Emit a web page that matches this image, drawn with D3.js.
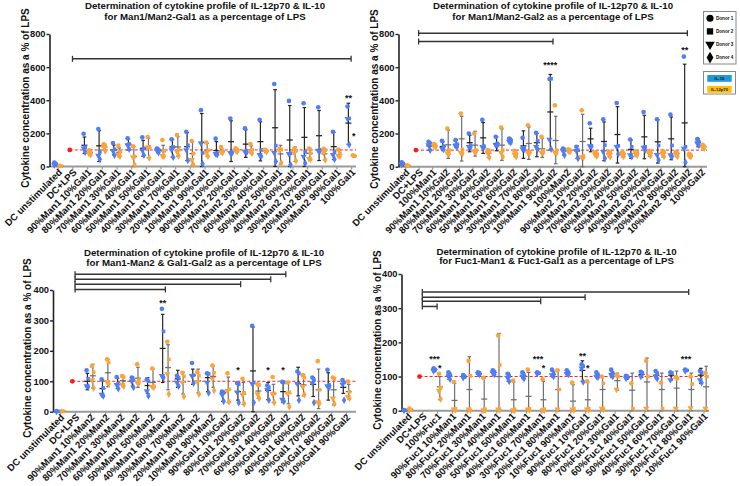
<!DOCTYPE html>
<html><head><meta charset="utf-8">
<script src="https://cdn.jsdelivr.net/npm/d3@7"></script>
<style>
body{margin:0;background:#fff}
svg{display:block}
text{font-family:"Liberation Sans",Arial,sans-serif;font-weight:bold;fill:#111}
</style>
</head><body>
<svg width="740" height="486"></svg>
<script>
// ---------------- DATA ----------------
const yTicks800 = [0, 200, 400, 600, 800];
const yTicks400 = [0, 100, 200, 300, 400];
const donors = ["Donor 1", "Donor 2", "Donor 3", "Donor 4"];
const cytokines = ["IL-10", "IL-12p70"];
const lpsValue = 100;

// Panel 1
const titles1 = ["Determination of cytokine profile of IL-12p70 & IL-10", "for Man1/Man2-Gal1 as a percentage of LPS"];
const cats1 = ["DC unstimulated","DC+LPS","90%Man1 10%Gal1","80%Man1 20%Gal1","70%Man1 30%Gal1","60%Man1 40%Gal1","50%Man1 50%Gal1","40%Man1 60%Gal1","30%Man1 70%Gal1","20%Man1 80%Gal1","10%Man1 90%Gal1","90%Man2 10%Gal1","80%Man2 20%Gal1","70%Man2 30%Gal1","60%Man2 40%Gal1","50%Man2 50%Gal1","40%Man2 60%Gal1","30%Man2 70%Gal1","20%Man2 80%Gal1","10%Man2 90%Gal1","100%Gal1"];
const il10Pts1 = [[24,16,8],[],[198,118,110,86],[226,88,66,44],[142,104,94,68],[170,136,128,104],[176,110,98,68],[108,102,96,84],[164,118,100,56],[210,128,100,36],[340,82,140,16],[168,80,76,72],[290,86,82,80],[230,96,90,84],[282,100,70,62],[498,126,82,30],[396,80,76,10],[382,88,60,20],[358,98,96,94],[210,88,70,44],[362,290,288,132]];
const il10Mean1 = [15,null,128,125,100,135,110,98,118,120,145,96,150,135,150,234,160,176,186,120,262];
const il10Err1 = [[5,25],null,[78,178],[30,216],[70,130],[100,166],[62,158],[84,110],[56,164],[36,204],[0,320],[66,150],[30,276],[55,222],[34,270],[0,464],[0,368],[0,356],[36,338],[42,206],[134,382]];
const il12Pts1 = [[4,2],[],[98,84,76,72],[134,126,118,94],[126,90,70,62],[122,60,56,10],[178,120,116,52],[160,94,64,62],[190,100,88,64],[154,78,40,12],[144,98,84,62],[118,92,86,84],[110,102,96,90],[136,100,92,80],[100,96,94,90],[106,102,96,22],[106,96,80,34],[108,80,46,44],[106,100,84,40],[102,80,64,62],[68,62]];
const il12Mean1 = [2,null,84,118,86,60,112,94,118,78,98,92,100,100,95,76,96,80,76,72,64];
const il12Err1 = [[0,4],null,[68,100],[98,136],[58,112],[0,120],[54,170],[60,128],[62,180],[10,150],[62,140],[82,106],[90,108],[80,125],[88,102],[15,128],[30,118],[40,110],[40,108],[60,100],[58,70]];
const brackets1 = [[1,20,650]];
const stars1 = [[20,0,433,"**"],[20,1,200,"*"]];

// Panel 2
const titles2 = ["Determination of cytokine profile of IL-12p70 & IL-10", "for Man1/Man2-Gal2 as a percentage of LPS"];
const cats2 = ["DC unstimulated","DC+LPS","100%Man1","90%Man1 10%Gal2","80%Man1 20%Gal2","70%Man1 30%Gal2","60%Man1 40%Gal2","50%Man1 50%Gal2","40%Man1 60%Gal2","30%Man1 70%Gal2","20%Man1 80%Gal2","10%Man1 90%Gal2","100%Man2","90%Man2 10%Gal2","80%Man2 20%Gal2","70%Man2 30%Gal2","60%Man2 40%Gal2","50%Man2 50%Gal2","40%Man2 60%Gal2","30%Man2 70%Gal2","20%Man2 80%Gal2","10%Man2 90%Gal2","100%Gal2"];
const il10Pts2 = [[26,18,12],[],[150,140,130,100],[156,124,110,104],[160,136,126,120],[200,130,120,118],[282,124,120,118],[180,140,130,128],[170,160,150,146],[174,114,106,104],[204,156,120,104],[528,530,164,106],[110,100,96,70],[120,100,96,50],[262,126,124,122],[286,130,90,50],[384,126,120,76],[164,120,70,60],[330,120,116,100],[286,128,72,40],[314,128,70,62],[664,120,110,26],[166,150,140,130]];
const il10Mean2 = [15,null,125,122,135,145,174,140,160,125,145,330,98,96,168,152,194,104,180,150,168,264,148];
const il10Err2 = [[6,26],null,[100,150],[100,150],[118,162],[90,190],[80,266],[96,180],[148,172],[50,216],[60,200],[100,556],[70,112],[50,124],[90,232],[36,270],[22,362],[50,160],[48,310],[22,282],[42,300],[0,618],[120,168]];
const il12Pts2 = [[8,4],[],[136,130,124,120],[230,100,82,78],[320,104,84,80],[200,100,92,90],[100,88,84,56],[236,100,84,60],[96,80,74,60],[250,90,84,82],[180,98,86,84],[370,100,86,82],[104,100,94,90],[340,64,58,56],[86,78,72,64],[90,84,72,60],[86,80,70,62],[92,84,76,70],[96,88,82,66],[96,88,74,62],[88,80,74,62],[78,70,64,60],[132,120,116,112]];
const il12Mean2 = [5,null,126,132,168,130,82,130,78,140,108,158,96,152,74,78,76,80,82,84,78,66,120];
const il12Err2 = [[2,8],null,[118,136],[50,220],[34,304],[64,214],[56,104],[38,228],[60,96],[44,240],[56,172],[18,304],[88,104],[0,316],[60,88],[58,92],[58,88],[62,92],[62,92],[58,96],[62,90],[56,76],[110,130]];
const brackets2 = [[1,21,805],[1,11,755]];
const stars2 = [[11,0,633,"****"],[21,0,723,"**"]];

// Panel 3
const titles3 = ["Determination of cytokine profile of IL-12p70 & IL-10", "for Man1-Man2 & Gal1-Gal2 as a percentage of LPS"];
const cats3 = ["DC unstimulated","DC+LPS","90%Man1 10%Man2","80%Man1 20%Man2","70%Man1 30%Man2","60%Man1 40%Man2","50%Man1 50%Man2","40%Man1 60%Man2","30%Man1 70%Man2","20%Man1 80%Man2","10%Man1 90%Man2","90%Gal1 10%Gal2","80%Gal1 20%Gal2","70%Gal1 30%Gal2","60%Gal1 40%Gal2","50%Gal1 50%Gal2","40%Gal1 60%Gal2","30%Gal1 70%Gal2","20%Gal1 80%Gal2","10%Gal1 90%Gal2"];
const il10Pts3 = [[2,1,0],[],[136,108,84,82],[106,78,56,52],[114,92,88,76],[112,104,100,80],[106,100,68,52],[338,264,118,112],[118,112,96,84],[160,120,118,94],[126,124,96,62],[66,62,56,34],[94,90,64,30],[282,96,92,30],[86,80,72,38],[98,96,40,34],[132,126,92,38],[112,104,94,30],[138,88,84,80],[104,96,90,38]];
const il10Mean3 = [1,null,100,76,92,100,86,208,108,120,112,62,66,134,70,66,92,90,86,80];
const il10Err3 = [[0,2],null,[72,126],[54,104],[76,110],[84,114],[60,112],[96,320],[80,136],[90,140],[66,128],[34,68],[38,96],[0,278],[40,96],[30,100],[52,146],[50,112],[38,128],[60,100]];
const il12Pts3 = [[2,1],[],[150,130,104,78],[172,162,98,92],[117,113,88,84],[156,104,96,94],[142,84,82,80],[230,172,124,58],[128,116,96,50],[130,118,98,58],[152,128,108,70],[126,74,68,32],[108,62,56,26],[90,88,58,44],[114,60,58,30],[96,64,60,16],[120,112,82,56],[166,72,32,28],[112,108,44,26],[99,66,49,44]];
const il12Mean3 = [1,null,118,128,102,110,96,145,98,102,116,72,58,68,60,60,88,72,72,66];
const il12Err3 = [[0,2],null,[78,156],[82,172],[84,116],[80,146],[80,140],[72,220],[58,130],[62,140],[80,150],[30,114],[24,96],[44,90],[30,90],[26,96],[52,122],[10,140],[22,112],[42,90]];
const brackets3 = [[1,15,452],[1,14,435],[1,12,419],[1,7,402]];
const stars3 = [[7,0,368,"**"],[12,0,147,"*"],[14,0,147,"*"],[15,0,147,"*"]];

// Panel 4
const titles4 = ["Determination of cytokine profile of IL-12p70 & IL-10", "for Fuc1-Man1 & Fuc1-Gal1 as a percentage of LPS"];
const cats4 = ["DC unstimulated","DC+LPS","100%Fuc1","90%Fuc1 10%Man1","80%Fuc1 20%Man1","70%Fuc1 30%Man1","60%Fuc1 40%Man1","50%Fuc1 50%Man1","40%Fuc1 60%Man1","30%Fuc1 70%Man1","20%Fuc1 80%Man1","10%Fuc1 90%Man1","90%Fuc1 10%Gal1","80%Fuc1 20%Gal1","70%Fuc1 30%Gal1","60%Fuc1 40%Gal1","50%Fuc1 50%Gal1","40%Fuc1 60%Gal1","30%Fuc1 70%Gal1","20%Fuc1 80%Gal1","10%Fuc1 90%Gal1"];
const il10Pts4 = [[2,1,0],[],[124,120,116],[112,106,100,92],[104,100,96],[112,110,108,106],[118,114,110,106],[108,102,96,86],[112,104,100,94],[112,110,108],[120,110,104,100],[118,112,108,106],[136,130,124,84],[112,106,100,98],[120,110,104,100],[102,98,94],[114,110,100],[116,110,100,94],[112,110,90],[120,118,116],[116,112,90,82]];
const il10Mean4 = [1,null,120,104,100,108,112,100,103,110,106,110,118,102,108,98,106,104,104,118,104];
const il10Err4 = [[0,2],null,[114,124],[92,112],[96,104],[102,112],[104,118],[86,110],[94,112],[106,112],[100,116],[106,116],[86,146],[98,108],[98,114],[92,104],[98,114],[96,112],[90,112],[116,120],[80,124]];
const il12Pts4 = [[6,3,2],[],[108,68,58,34],[84,6,4,2],[146,102,4,2],[96,4,2,1],[220,134,4,2],[88,4,2,1],[120,6,4,2],[92,4,2,1],[118,62,4],[82,6,4,2],[86,6,4,2],[100,80,6,4],[104,100,62],[80,6],[146,100,6],[82,6],[98,94,6],[100,78,8],[110,100,6]];
const il12Mean4 = [4,null,70,30,62,34,100,32,42,32,62,28,32,62,88,60,84,62,66,62,70];
const il12Err4 = [[2,6],null,[32,100],[0,80],[0,158],[0,96],[0,226],[0,84],[0,112],[0,86],[0,118],[0,76],[0,84],[2,100],[60,110],[0,110],[0,154],[0,110],[0,116],[0,110],[0,130]];
const brackets4 = [[1,19,347],[1,12,332],[1,9,320],[1,2,305]];
const stars4 = [[2,0,159,"***"],[2,1,133,"*"],[9,0,159,"***"],[9,1,133,"*"],[12,0,170,"**"],[12,1,133,"*"],[19,0,159,"***"]];

// ---------------- LAYOUT / STYLE ----------------
const BLUE = "#4f7ef7", ORANGE = "#fba43a";
const shapes = [d3.symbolCircle, d3.symbolSquare, d3.symbolTriangle, d3.symbolDiamond];
const svg = d3.select("svg");

const panels = [
  {titles:titles1,cats:cats1,p10:il10Pts1,m10:il10Mean1,e10:il10Err1,p12:il12Pts1,m12:il12Mean1,e12:il12Err1,br:brackets1,st:stars1,
   yMax:800,ticks:yTicks800,xr:[57.8,351.1],yr:[166.5,34],ax0:49.5,ax1:356,tx:205,ty:[9.2,20.2],ylx:25,yly:98},
  {titles:titles2,cats:cats2,p10:il10Pts2,m10:il10Mean2,e10:il10Err2,p12:il12Pts2,m12:il12Mean2,e12:il12Err2,br:brackets2,st:stars2,
   yMax:800,ticks:yTicks800,xr:[405.2,700.8],yr:[166.7,34],ax0:398.5,ax1:707,tx:553,ty:[9.2,20.2],ylx:374.5,yly:99},
  {titles:titles3,cats:cats3,p10:il10Pts3,m10:il10Mean3,e10:il10Err3,p12:il12Pts3,m12:il12Mean3,e12:il12Err3,br:brackets3,st:stars3,
   yMax:400,ticks:yTicks400,xr:[60,346],yr:[411.7,290],ax0:53,ax1:356,tx:204,ty:[255.8,265.8],ylx:27,yly:348},
  {titles:titles4,cats:cats4,p10:il10Pts4,m10:il10Mean4,e10:il10Err4,p12:il12Pts4,m12:il12Mean4,e12:il12Err4,br:brackets4,st:stars4,
   yMax:400,ticks:yTicks400,xr:[407.5,703.5],yr:[410.7,274],ax0:401.5,ax1:709,tx:556.5,ty:[254.5,264.2],ylx:377,yly:340}
];

const OFF = 2.7;
const FONT = "'Liberation Sans',Arial,sans-serif";

function drawPanel(p) {
  const g = svg.append("g");
  const x = d3.scalePoint().domain(p.cats).range(p.xr);
  const y = d3.scaleLinear().domain([0, p.yMax]).range(p.yr);

  // titles
  p.titles.forEach((t, k) => {
    g.append("text").attr("x", p.tx).attr("y", p.ty[k]).attr("text-anchor", "middle")
      .style("font-size", "9.7px").text(t);
  });
  // y label
  g.append("text").attr("transform", `translate(${p.ylx},${p.yly}) rotate(-90)`)
    .attr("text-anchor", "middle").attr("dy", "0.35em").style("font-size", "10px")
    .text("Cytokine concentration as a % of LPS");

  // x axis line
  g.append("line").attr("x1", p.ax0).attr("x2", p.ax1).attr("y1", y(0)).attr("y2", y(0))
    .attr("stroke", "#9a9a9a").attr("stroke-width", 2);
  const xa = g.append("g").attr("transform", `translate(0,${y(0)})`)
    .call(d3.axisBottom(x).tickSize(3).tickSizeOuter(0));
  xa.select(".domain").remove();
  xa.selectAll(".tick line").attr("stroke", "#9a9a9a").attr("stroke-width", 1.2);
  xa.selectAll(".tick text").attr("x", 0).attr("y", 0).attr("dy", "0.35em")
    .attr("transform", "translate(2,4) rotate(-45)").style("text-anchor", "end")
    .style("font-size", "9.6px").style("font-family", FONT).style("font-weight", "bold").attr("fill", "#111");

  // y axis
  const ya = g.append("g").attr("transform", `translate(${p.ax0},0)`)
    .call(d3.axisLeft(y).tickValues(p.ticks).tickSize(3).tickSizeOuter(0).tickPadding(1));
  ya.select(".domain").attr("stroke", "#222").attr("stroke-width", 1.6);
  ya.selectAll(".tick line").attr("stroke", "#222").attr("stroke-width", 1.4);
  ya.selectAll(".tick text").style("font-size", "9.3px").style("font-family", FONT).style("font-weight", "bold").attr("fill", "#111");

  // LPS reference
  const lx = x(p.cats[1]) - OFF;
  g.append("line").attr("x1", lx).attr("x2", p.ax1).attr("y1", y(lpsValue)).attr("y2", y(lpsValue))
    .attr("stroke", "#ff1f1f").attr("stroke-width", 1).attr("stroke-dasharray", "3,2");

  // brackets
  p.br.forEach(([a, b, v]) => {
    const x1 = x(p.cats[a]), x2 = x(p.cats[b]), yy = y(v);
    g.append("line").attr("x1", x1).attr("x2", x2).attr("y1", yy).attr("y2", yy).attr("stroke", "#333").attr("stroke-width", 1.5);
    [x1, x2].forEach(xx => g.append("line").attr("x1", xx).attr("x2", xx).attr("y1", yy - 3).attr("y2", yy + 3).attr("stroke", "#333").attr("stroke-width", 1.3));
  });

  // groups
  const groups = [
    {pts: p.p10, mean: p.m10, err: p.e10, dx: -OFF, col: BLUE, bar: "#262626"},
    {pts: p.p12, mean: p.m12, err: p.e12, dx: OFF, col: ORANGE, bar: "#707070"}
  ];
  groups.forEach(gr => {
    p.cats.forEach((c, i) => {
      const cx = x(c) + gr.dx;
      const e = gr.err[i];
      if (e) {
        g.append("line").attr("x1", cx).attr("x2", cx).attr("y1", y(e[0])).attr("y2", y(e[1]))
          .attr("stroke", gr.bar).attr("stroke-width", 1.2);
        e.forEach(v => g.append("line").attr("x1", cx - 1.8).attr("x2", cx + 1.8).attr("y1", y(v)).attr("y2", y(v))
          .attr("stroke", gr.bar).attr("stroke-width", 1.2));
      }
      if (gr.mean[i] != null) {
        g.append("line").attr("x1", cx - 3).attr("x2", cx + 3).attr("y1", y(gr.mean[i])).attr("y2", y(gr.mean[i]))
          .attr("stroke", gr.bar).attr("stroke-width", 1.3);
      }
    });
  });
  groups.forEach(gr => {
    p.cats.forEach((c, i) => {
      const cx = x(c) + gr.dx;
      gr.pts[i].forEach((v, k) => {
        const sym = d3.symbol().type(shapes[k]).size(k === 1 ? 13 : 17);
        g.append("path").attr("d", sym())
          .attr("transform", `translate(${cx + (k % 2 ? 0.8 : -0.8)},${y(v)})${k === 2 ? " rotate(180)" : ""}`)
          .attr("fill", gr.col);
      });
    });
  });
  // red LPS point
  g.append("circle").attr("cx", lx).attr("cy", y(lpsValue)).attr("r", 2.4).attr("fill", "#ff1a1a");

  // stars
  p.st.forEach(([i, grp, v, s]) => {
    g.append("text").attr("x", x(p.cats[i]) + (grp === 0 ? -OFF : OFF)).attr("y", y(v) + 6)
      .attr("text-anchor", "middle").style("font-size", "9px").attr("fill", "#333").text(s);
  });
}
panels.forEach(drawPanel);

// ---------------- LEGEND ----------------
const lg = svg.append("g");
lg.append("rect").attr("x", 703.5).attr("y", 11.5).attr("width", 32.5).attr("height", 52.5)
  .attr("fill", "#fff").attr("stroke", "#888").attr("stroke-width", 1);
donors.forEach((d, k) => {
  const yy = 18.3 + k * 13.1;
  lg.append("path").attr("d", d3.symbol().type(shapes[k]).size(40)())
    .attr("transform", `translate(710,${yy})${k === 2 ? " rotate(180)" : ""}`).attr("fill", "#000");
  lg.append("text").attr("x", 716).attr("y", yy).attr("dy", "0.35em").style("font-size", "4.6px").text(d);
});
lg.append("rect").attr("x", 703.5).attr("y", 71.5).attr("width", 32).attr("height", 22.5)
  .attr("fill", "#fff").attr("stroke", "#888").attr("stroke-width", 1);
const legCols = ["#1b9ad6", "#ffc000"];
cytokines.forEach((c, k) => {
  const yy = 75 + k * 11;
  lg.append("rect").attr("x", 707.3).attr("y", yy).attr("width", 24.4).attr("height", 6.8).attr("fill", legCols[k]);
  lg.append("text").attr("x", 719.5).attr("y", yy + 3.4).attr("dy", "0.35em").attr("text-anchor", "middle")
    .style("font-size", "4.2px").attr("fill", "#333").text(c);
});
</script>
</body></html>
